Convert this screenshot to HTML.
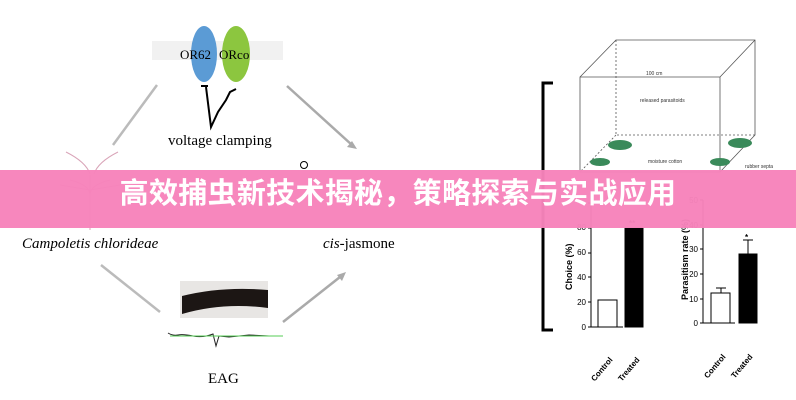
<!DOCTYPE html>
<html><head><meta charset="utf-8"><style>
html,body{margin:0;padding:0;background:#fff;}
.w{position:relative;width:796px;height:400px;overflow:hidden;}
svg{position:absolute;left:0;top:0}
.ban{position:absolute;left:0;top:170px;width:796px;height:58px;background:#f783bb;opacity:.97;}
.bt{position:absolute;left:0;top:170px;width:796px;height:58px;line-height:58px;text-align:center;color:#fff;font:bold 29px "Liberation Sans","Noto Sans CJK SC",sans-serif;letter-spacing:0.3px;}
</style></head><body><div class="w">
<svg width="796" height="400" viewBox="0 0 796 400" font-family="Liberation Serif,serif">
<rect x="152" y="41" width="131" height="19" fill="#f1f1f1"/>
<ellipse cx="204" cy="54" rx="13" ry="28" fill="#5b9bd5"/>
<ellipse cx="236" cy="54" rx="14" ry="28" fill="#8cc63f"/>
<text x="180" y="59" font-size="13">OR62</text><text x="219" y="59" font-size="13">ORco</text>
<path d="M201 86h7M206 87L211 127L218 112L226 100L230 92L236 89" stroke="#000" stroke-width="2" fill="none"/>
<text x="168" y="145" font-size="15">voltage clamping</text>
<line x1="157" y1="85" x2="113" y2="145" stroke="#bbb" stroke-width="2.5"/>
<line x1="287" y1="86" x2="352" y2="145" stroke="#aaa" stroke-width="2.5"/>
<path d="M357 149l-10-2 5-6z" fill="#aaa"/>
<g stroke="#d9a4b8" fill="none"><path d="M66 152q20 10 24 22M118 152q-20 10-24 22M90 175v55M70 180q20 5 20 15M110 180q-20 5-20 15M60 185l30 5 30-5"/></g>
<text x="22" y="248" font-size="15" font-style="italic">Campoletis chlorideae</text>
<text x="323" y="248" font-size="15"><tspan font-style="italic">cis</tspan>-jasmone</text>
<circle cx="304" cy="165" r="3.5" fill="none" stroke="#000"/>
<line x1="101" y1="265" x2="160" y2="312" stroke="#bbb" stroke-width="2.5"/>
<line x1="283" y1="322" x2="340" y2="277" stroke="#aaa" stroke-width="2.5"/>
<path d="M346 272l-4 9-5-6z" fill="#aaa"/>
<rect x="180" y="281" width="88" height="37" fill="#e8e6e4"/>
<path d="M182 296q40-10 86-6v18q-45-6-86 6z" fill="#1c1614"/>
<path d="M168 333q5 3 10 2t15 1 20-2l3 12 3-10 10 1 20-2 20 1" stroke="#222" fill="none"/>
<line x1="170" y1="336" x2="283" y2="336" stroke="#5c5" stroke-width="1"/>
<text x="208" y="383" font-size="15">EAG</text>
<path d="M553 83h-10v247h10" stroke="#000" stroke-width="3" fill="none"/>
<g stroke="#555" stroke-width="0.8" fill="none">
<path d="M580 77h140v95h-140zM580 77l36-37h139v95l-35 37M720 77l35-37"/>
<path d="M616 40v95h139M616 135l-36 37" stroke-dasharray="2 2"/>
</g>
<g font-family="Liberation Sans,sans-serif" font-size="5" fill="#333">
<text x="646" y="75">100 cm</text><text x="640" y="102">released parasitoids</text>
<text x="648" y="163">moisture cotton</text><text x="745" y="168">rubber septa</text>
</g>
<g fill="#3a8a5a"><ellipse cx="620" cy="145" rx="12" ry="5"/><ellipse cx="600" cy="162" rx="10" ry="4"/><ellipse cx="740" cy="143" rx="12" ry="5"/><ellipse cx="720" cy="162" rx="10" ry="4"/></g>
<g font-family="Liberation Sans,sans-serif" font-size="8" fill="#000" stroke="#000">
<path d="M591 200v127h32M703 200v123h32" fill="none"/>
<rect x="598" y="300" width="19" height="27" fill="#fff"/>
<rect x="625" y="228" width="18" height="99"/>
<rect x="711" y="293" width="19" height="30" fill="#fff"/>
<rect x="739" y="254" width="18" height="69"/>
<path d="M721 293v-5M716 288h10M748 254v-14M743 240h10" fill="none"/>
<path d="M591 203h-3M591 228h-3M591 253h-3M591 277h-3M591 302h-3M591 327h-3M703 200h-3M703 225h-3M703 249h-3M703 274h-3M703 299h-3M703 323h-3" fill="none"/>
<g stroke="none" text-anchor="end"><text x="586" y="230">80</text><text x="586" y="255">60</text><text x="586" y="280">40</text><text x="586" y="305">20</text><text x="586" y="330">0</text>
<text x="698" y="203">50</text><text x="698" y="228">40</text><text x="698" y="252">30</text><text x="698" y="277">20</text><text x="698" y="302">10</text><text x="698" y="326">0</text></g>
<g stroke="none" font-weight="bold"><text transform="translate(572,290) rotate(-90)" font-size="9">Choice (%)</text><text transform="translate(688,300) rotate(-90)" font-size="9">Parasitism rate (%)</text>
<text transform="translate(613,360) rotate(-50)" text-anchor="end">Control</text><text transform="translate(640,360) rotate(-50)" text-anchor="end">Treated</text>
<text transform="translate(726,357) rotate(-50)" text-anchor="end">Control</text><text transform="translate(753,357) rotate(-50)" text-anchor="end">Treated</text>
<text x="629" y="226">**</text><text x="745" y="240">*</text></g>
</g>
</svg>
<div class="ban"></div>
<div class="bt">高效捕虫新技术揭秘，策略探索与实战应用</div>
</div></body></html>
